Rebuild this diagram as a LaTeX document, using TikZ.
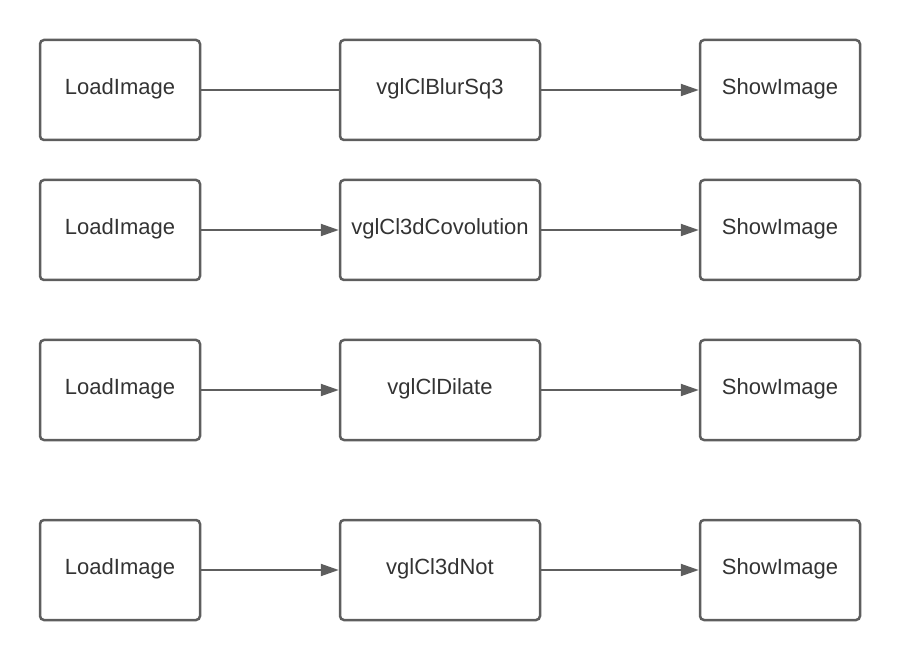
\documentclass[tikz,border=0pt]{standalone}
\usepackage{fontspec}
\setmainfont{Liberation Sans}
\usetikzlibrary{arrows.meta,positioning}
\definecolor{edgegray}{RGB}{94,94,94}
\definecolor{textgray}{RGB}{51,51,51}

\begin{document}
\begin{tikzpicture}[x=1pt, y=-1pt,
        block/.style={draw=edgegray, line width=2.5pt, rounded corners=4pt,
          minimum height=100pt, text height=16pt, text depth=7.5pt,
          text=textgray, font=\fontsize{22}{26}\selectfont},
        link/.style={draw=edgegray, line width=2pt},
        plain/.style={},
        arrowed/.style={-{Triangle[length=18pt, width=12pt]}}]
        \useasboundingbox (0,0) rectangle (900,660);
        \foreach \r/\y/\filter/\tip in {1/90/vglClBlurSq3/plain, 2/230/vglCl3dCovolution/arrowed,
            3/390/vglClDilate/arrowed, 4/570/vglCl3dNot/arrowed} {
          \node[block, minimum width=160pt] (load-\r) at (120,\y) {LoadImage};
          \node[block, minimum width=200pt] (filter-\r) at (440,\y) {\filter};
          \node[block, minimum width=160pt] (show-\r) at (780,\y) {ShowImage};
          \draw[link, \tip] (load-\r) -- (filter-\r);
          \draw[link, arrowed] (filter-\r) -- (show-\r);
        };
      \end{tikzpicture}
\end{document}
